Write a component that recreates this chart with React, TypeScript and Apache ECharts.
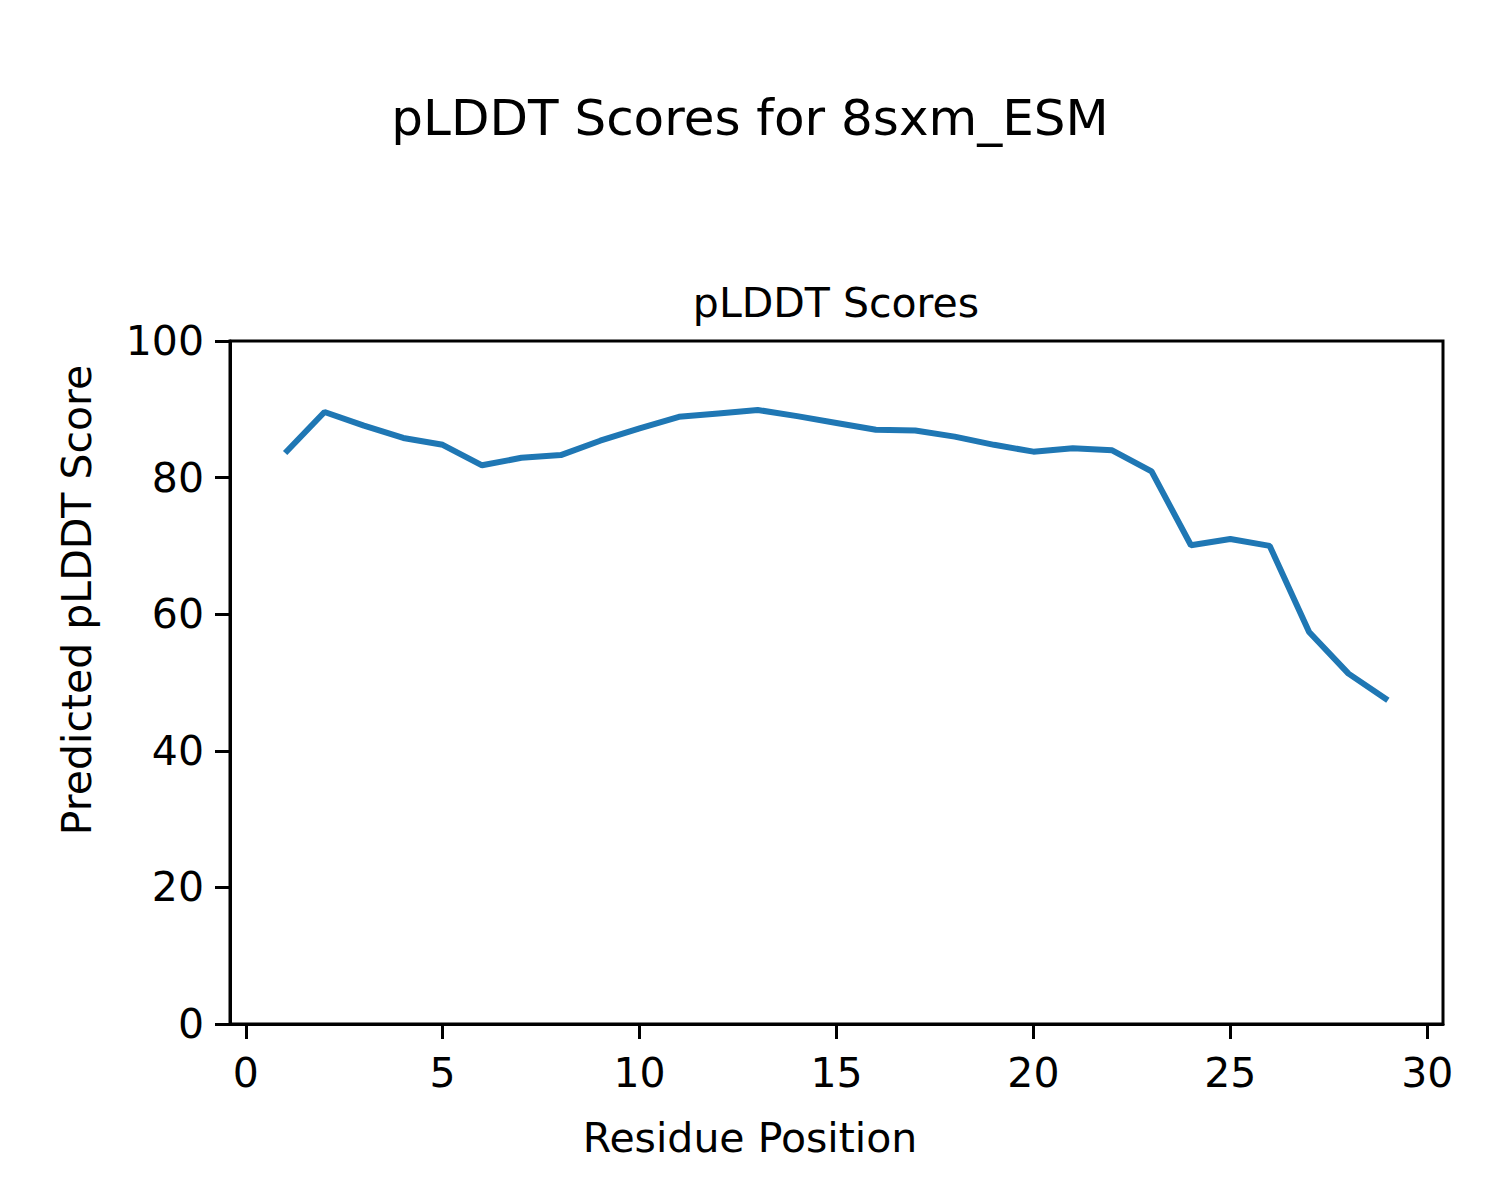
import React, { useEffect, useRef } from "react";
import * as echarts from "echarts";

const positions = [1, 2, 3, 4, 5, 6, 7, 8, 9, 10, 11, 12, 13, 14, 15, 16, 17, 18, 19, 20, 21, 22, 23, 24, 25, 26, 27, 28, 29];
const scores = [83.6, 89.6, 87.6, 85.8, 84.8, 81.8, 82.9, 83.3, 85.4, 87.2, 88.9, 89.4, 89.9, 89.0, 88.0, 87.0, 86.9, 86.0, 84.8, 83.8, 84.3, 84.0, 80.9, 70.1, 71.0, 70.0, 57.4, 51.3, 47.4];
const xTicks = [0, 5, 10, 15, 20, 25, 30];
const yTicks = [0, 20, 40, 60, 80, 100];

const FONT = "DejaVu Sans";

export default function App() {
  const ref = useRef<HTMLDivElement>(null);
  useEffect(() => {
    document.body.style.margin = "0";
    const chart = echarts.init(ref.current!, null, { renderer: "svg" });
    const data = positions.map((p, i) => [p, scores[i]]);
    chart.setOption({
      animation: false,
      backgroundColor: "#fff",
      textStyle: { fontFamily: FONT },
      grid: {
        left: 230,
        right: 57,
        top: 341,
        bottom: 176,
        show: true,
        borderColor: "#000",
        borderWidth: 3,
        backgroundColor: "transparent",
      },
      xAxis: {
        type: "value",
        min: -0.4,
        max: 30.4,
        splitLine: { show: false },
        axisLine: { show: true, onZero: false, lineStyle: { color: "#000", width: 3 } },
        axisTick: { show: true, length: 15, lineStyle: { color: "#000", width: 3 }, customValues: xTicks },
        axisLabel: {
          show: true,
          customValues: xTicks,
          margin: 28,
          color: "#000",
          fontSize: 41,
          fontFamily: FONT,
        },
      },
      yAxis: {
        type: "value",
        min: 0,
        max: 100,
        interval: 20,
        splitLine: { show: false },
        axisLine: { show: true, onZero: false, lineStyle: { color: "#000", width: 3 } },
        axisTick: { show: true, length: 15, lineStyle: { color: "#000", width: 3 }, customValues: yTicks },
        axisLabel: {
          show: true,
          customValues: yTicks,
          margin: 26,
          color: "#000",
          fontSize: 41,
          fontFamily: FONT,
        },
      },
      series: [
        {
          type: "line",
          data,
          symbol: "none",
          lineStyle: { color: "#1f77b4", width: 6 },
        },
      ],
      graphic: [
        {
          type: "text",
          x: 750,
          y: 118,
          style: {
            text: "pLDDT Scores for 8sxm_ESM",
            fontSize: 50,
            fontFamily: FONT,
            fill: "#000",
            align: "center",
            verticalAlign: "middle",
          },
        },
        {
          type: "text",
          x: 836,
          y: 303,
          style: {
            text: "pLDDT Scores",
            fontSize: 41,
            fontFamily: FONT,
            fill: "#000",
            align: "center",
            verticalAlign: "middle",
          },
        },
        {
          type: "text",
          x: 750,
          y: 1138,
          style: {
            text: "Residue Position",
            fontSize: 41,
            fontFamily: FONT,
            fill: "#000",
            align: "center",
            verticalAlign: "middle",
          },
        },
        {
          type: "text",
          x: 77,
          y: 600,
          rotation: Math.PI / 2,
          style: {
            text: "Predicted pLDDT Score",
            fontSize: 41,
            fontFamily: FONT,
            fill: "#000",
            align: "center",
            verticalAlign: "middle",
          },
        },
      ],
    });
    return () => chart.dispose();
  }, []);
  return <div ref={ref} style={{ width: 1500, height: 1200 }} />;
}
